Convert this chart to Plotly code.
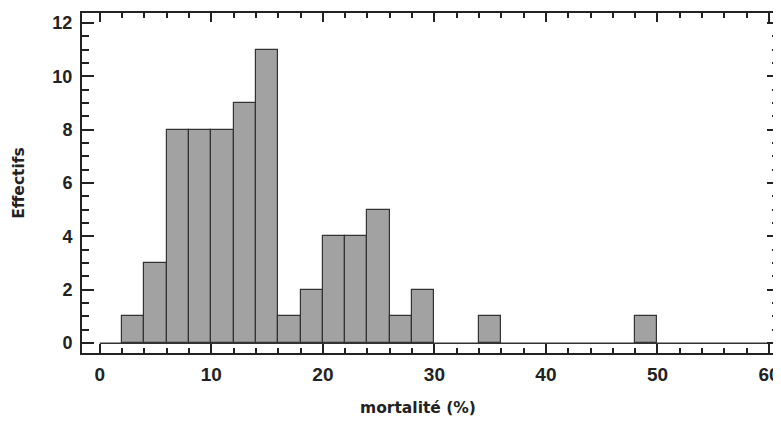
import plotly.graph_objects as go

bin_start = [2, 4, 6, 8, 10, 12, 14, 16, 18, 20, 22, 24, 26, 28, 34, 48]
counts = [1, 3, 8, 8, 8, 9, 11, 1, 2, 4, 4, 5, 1, 2, 1, 1]
bin_width = 2
zero_x = [0, 60]
zero_y = [0, 0]
x_ticks = [0, 10, 20, 30, 40, 50, 60]
y_ticks = [0, 2, 4, 6, 8, 10, 12]
x_title = "mortalité (%)"
y_title = "Effectifs"

fig = go.Figure()
fig.add_trace(go.Scatter(x=zero_x, y=zero_y, mode="lines",
                         line=dict(color="#333333", width=1.5),
                         hoverinfo="skip", showlegend=False))
fig.add_trace(go.Bar(x=bin_start, y=counts, width=[bin_width]*len(counts), offset=0,
                     marker=dict(color="#a2a2a2", line=dict(color="#333333", width=1.2)),
                     showlegend=False))

tick_family = "Liberation Sans, Arial, sans-serif"
title_family = "DejaVu Sans, sans-serif"

fig.update_layout(
    width=773, height=413,
    margin=dict(l=74, r=0, t=5, b=68),
    paper_bgcolor="white", plot_bgcolor="white",
    bargap=0,
    xaxis=dict(range=[-1.6, 60.9], tickvals=x_ticks, ticks="inside", ticklen=9,
               tickwidth=1.5, tickcolor="#222222",
               minor=dict(dtick=2, tick0=0, ticks="inside", ticklen=5, tickcolor="#222222"),
               showline=True, linecolor="#222222", linewidth=2, mirror="allticks",
               showgrid=False, zeroline=False,
               tickfont=dict(family=tick_family, size=19, color="#222222", weight="bold"),
               ticklabelstandoff=3),
    yaxis=dict(range=[-0.37, 12.37], tickvals=y_ticks, ticks="inside", ticklen=12,
               tickwidth=1.5, tickcolor="#222222",
               minor=dict(dtick=0.5, tick0=0, ticks="inside", ticklen=7, tickcolor="#222222"),
               showline=True, linecolor="#222222", linewidth=2, mirror="allticks",
               showgrid=False, zeroline=False,
               tickfont=dict(family=tick_family, size=18, color="#222222", weight="bold"),
               ticklabelstandoff=4,
               title=dict(text=y_title, standoff=24,
                          font=dict(family=title_family, size=15.5, color="#222222", weight="bold"))),
    annotations=[dict(text=x_title, xref="paper", yref="paper", x=0.482, y=0,
                      xanchor="center", yanchor="middle", yshift=-55, showarrow=False,
                      font=dict(family=title_family, size=15.5, color="#222222", weight="bold"))],
)

fig.write_html("out.html")
